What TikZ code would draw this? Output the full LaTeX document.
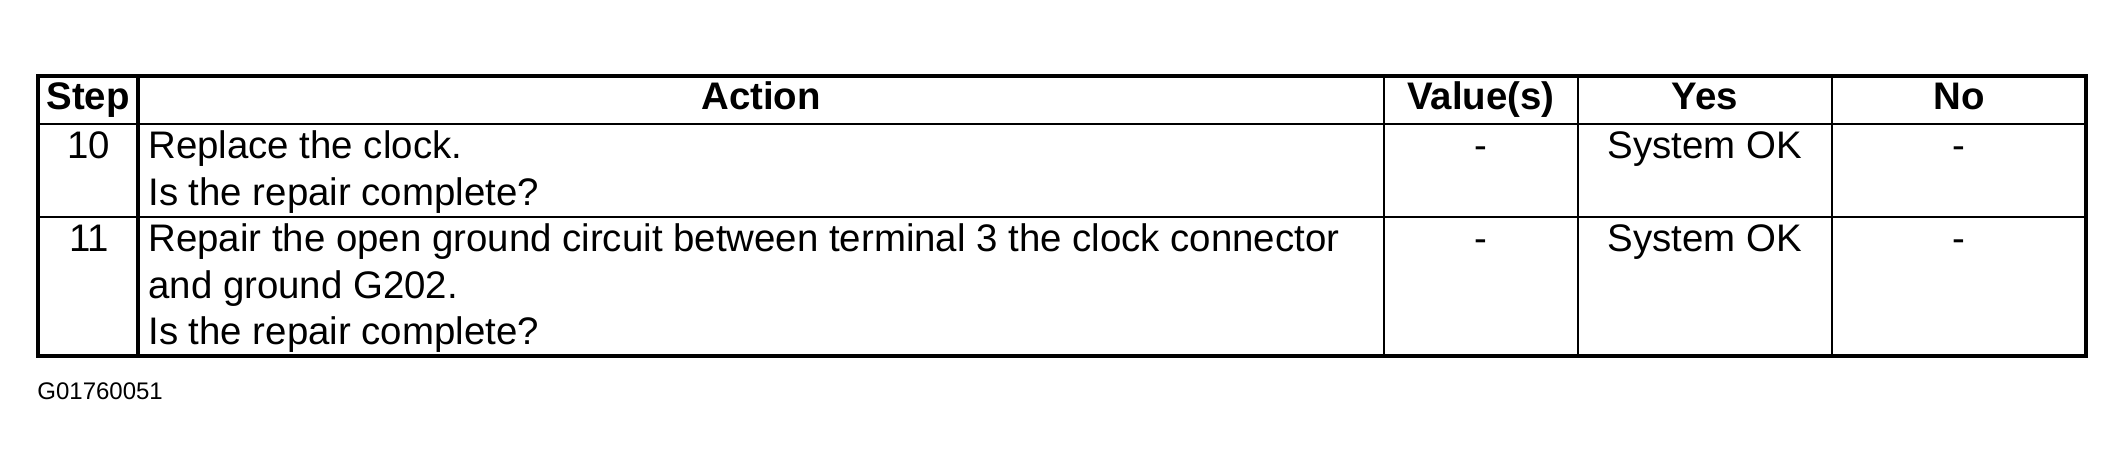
\documentclass[tikz,border=0pt]{standalone}
\usepackage{fontspec}
\setmainfont{Liberation Sans}

\begin{document}
\begin{tikzpicture}[x=0.5pt,y=-0.5pt,
        cell/.style={font=\fontsize{19.2}{23}\selectfont,inner sep=0pt,anchor=base},
        head/.style={cell,font=\bfseries\fontsize{19.2}{23}\selectfont},
        actiontext/.style={cell,anchor=base west},
        rim/.style={line width=1.6pt},
        rule/.style={line width=1pt}]
        \useasboundingbox (0,0) rectangle (2124,476);
        \draw[rim] (38,76) rectangle (2086,356);
        \draw[rule] (38,124) -- (2086,124);
        \draw[rule] (38,217) -- (2086,217);
        \draw[rim] (138,76) -- (138,356);
        \draw[rule] (1384,76) -- (1384,356);
        \draw[rule] (1578,76) -- (1578,356);
        \draw[rule] (1832,76) -- (1832,356);
        \node[head] (step) at (88,110) {Step};
        \node[head] (action) at (761,110) {Action};
        \node[head] (value) at (1481,110) {Value(s)};
        \node[head] (yes) at (1705,110) {Yes};
        \node[head] (no) at (1959,110) {No};
        \node[cell] (s10) at (89,158) {10};
        \node[actiontext] (a10) at (148,158) {Replace the clock.};
        \node[actiontext] (a10q) at (148,205) {Is the repair complete?};
        \node[cell] (v10) at (1481,158) {-};
        \node[cell] (y10) at (1705,158) {System OK};
        \node[cell] (n10) at (1959,158) {-};
        \node[cell] (s11) at (89,251) {11};
        \node[actiontext] (a11) at (148,251) {Repair the open ground circuit between terminal 3 the clock connector};
        \node[actiontext] (a11b) at (148,298) {and ground G202.};
        \node[actiontext] (a11q) at (148,344) {Is the repair complete?};
        \node[cell] (v11) at (1481,251) {-};
        \node[cell] (y11) at (1705,251) {System OK};
        \node[cell] (n11) at (1959,251) {-};
        \node[anchor=base west,inner sep=0pt,font=\fontsize{12}{14}\selectfont] (figno) at (37,399) {G01760051};
    \end{tikzpicture}
\end{document}
